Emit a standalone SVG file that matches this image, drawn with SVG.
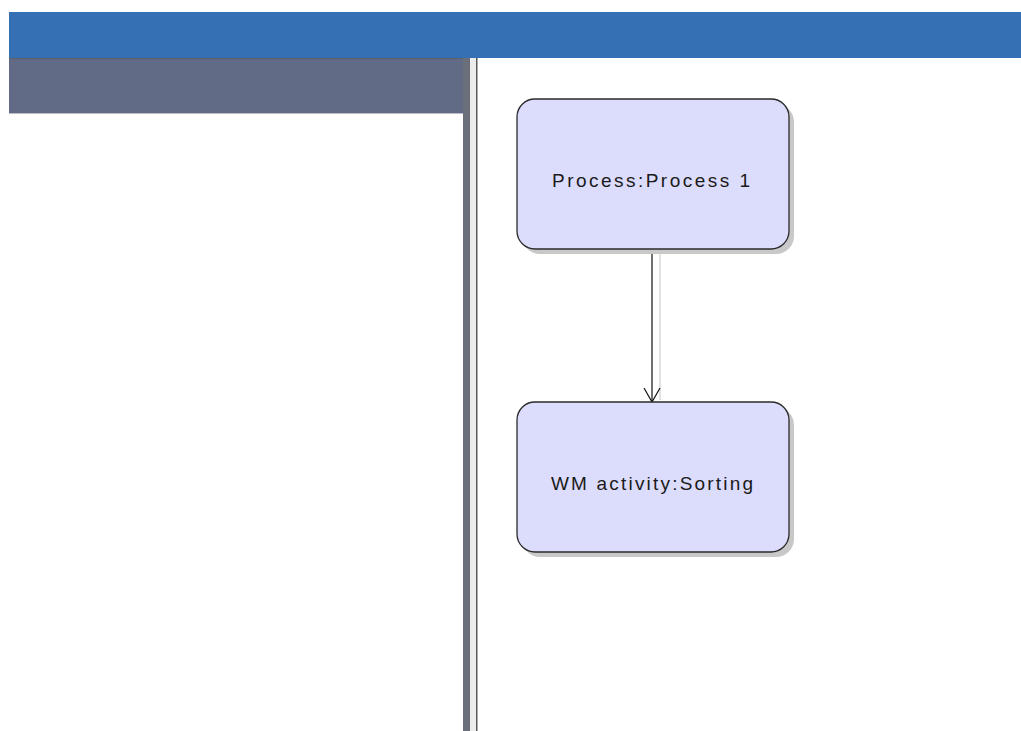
<svg xmlns="http://www.w3.org/2000/svg" width="1021" height="731" viewBox="0 0 1021 731">
<defs>
<style>
.node{fill:#dcdcfc;stroke:#2a2a2a;stroke-width:1.3}
.shadow{fill:#c8c8c8}
.lbl{font-family:"Liberation Sans",Arial,sans-serif;font-size:19px;fill:#1a1a1a;text-anchor:middle}
.edge{stroke:#111;stroke-width:1.2;fill:none}
</style>
<marker id="arr" markerWidth="20" markerHeight="20" refX="15" refY="9" markerUnits="userSpaceOnUse" orient="auto">
<path d="M1,1 L15,9 L1,17" fill="none" stroke="#111" stroke-width="1.2"/>
</marker>
</defs>
<rect x="0" y="0" width="1021" height="731" fill="#fff"/>
<rect x="9" y="12" width="1012" height="46" fill="#3570b5"/>
<rect x="9" y="58" width="456" height="55" fill="#626b85"/>
<line x1="9" y1="58.5" x2="465" y2="58.5" stroke="#5e5f68" stroke-width="1"/>
<line x1="9" y1="113.5" x2="465" y2="113.5" stroke="#b8bcc8" stroke-width="1"/>
<rect x="463" y="58" width="7" height="673" fill="#6b6f7a"/>
<rect x="470" y="58" width="6" height="673" fill="#ececec"/>
<rect x="476" y="58" width="1.5" height="673" fill="#5a5a5a"/>
<g id="connectors">
<line x1="660" y1="252" x2="660" y2="400" stroke="#d8d8d8" stroke-width="1.5"/>
<line class="edge" x1="652" y1="249" x2="652" y2="402" marker-end="url(#arr)"/>
</g>
<g id="node1">
<rect class="shadow" x="522" y="104" width="272" height="150" rx="18"/>
<rect class="node" x="517" y="99" width="272" height="150" rx="18"/>
<text class="lbl" x="651" y="187" textLength="198" lengthAdjust="spacing">Process:Process 1</text>
</g>
<g id="node2">
<rect class="shadow" x="522" y="407" width="272" height="150" rx="18"/>
<rect class="node" x="517" y="402" width="272" height="150" rx="18"/>
<text class="lbl" x="652" y="490" textLength="202" lengthAdjust="spacing">WM activity:Sorting</text>
</g>
</svg>
